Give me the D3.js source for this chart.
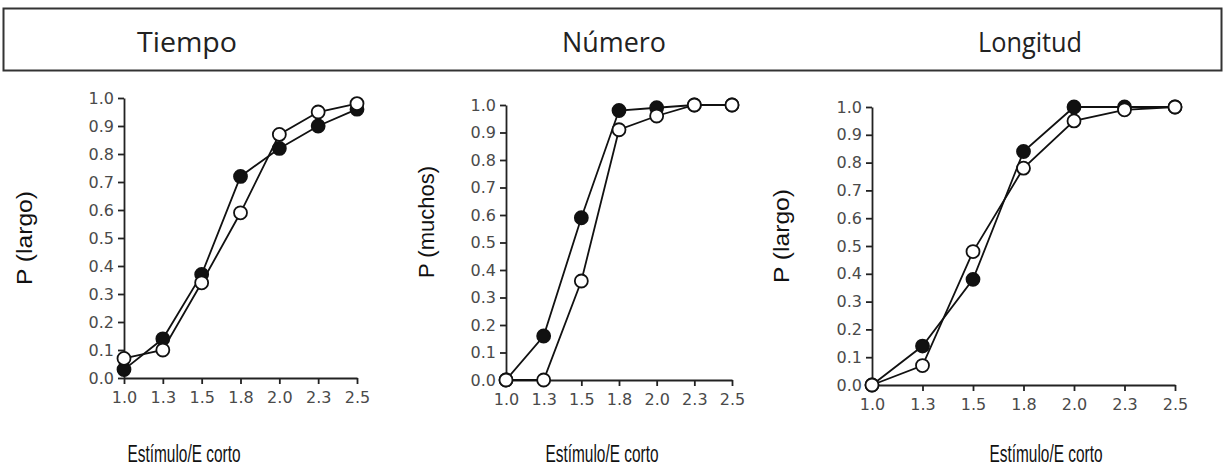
<!DOCTYPE html>
<html>
<head>
<meta charset="utf-8">
<script src="https://cdn.jsdelivr.net/npm/d3@7"></script>
<style>
  body { margin: 0; background: #fff; }
  svg { display: block; }
  .tick line, .domain { stroke: #222; stroke-width: 1.8; }
</style>
</head>
<body>
<div id="container"></div>
<script>
const width = 1226;
const height = 475;

// ------------------ DATA ------------------ //
const ratios = ["1.0", "1.3", "1.5", "1.8", "2.0", "2.3", "2.5"];
const yTicks = [0, 0.1, 0.2, 0.3, 0.4, 0.5, 0.6, 0.7, 0.8, 0.9, 1.0];
const titles = ["Tiempo", "Número", "Longitud"];
const yLabels = ["P (largo)", "P (muchos)", "P (largo)"];
const xLabel = "Estímulo/E corto";

const tiempoFilled = [0.03, 0.14, 0.37, 0.72, 0.82, 0.90, 0.96];
const tiempoOpen   = [0.07, 0.10, 0.34, 0.59, 0.87, 0.95, 0.98];
const numeroFilled = [0.00, 0.16, 0.59, 0.98, 0.99, 1.00, 1.00];
const numeroOpen   = [0.00, 0.00, 0.36, 0.91, 0.96, 1.00, 1.00];
const longFilled   = [0.00, 0.14, 0.38, 0.84, 1.00, 1.00, 1.00];
const longOpen     = [0.00, 0.07, 0.48, 0.78, 0.95, 0.99, 1.00];

// panel frames (plot area in page pixels)
const panels = [
  { x0: 124, x1: 357, yTop: 98, yBot: 378, title: 187, titleW: 100, lab: [24, 238], labW: 94, xlab: 184,
    filled: tiempoFilled, open: tiempoOpen },
  { x0: 506, x1: 732, yTop: 105, yBot: 380, title: 614, titleW: 104, lab: [426, 222], labW: 112, xlab: 602,
    filled: numeroFilled, open: numeroOpen },
  { x0: 872, x1: 1175, yTop: 107, yBot: 385, title: 1030, titleW: 104, lab: [781, 236], labW: 94, xlab: 1046,
    filled: longFilled, open: longOpen }
];

const svg = d3.select("#container").append("svg")
  .attr("width", width)
  .attr("height", height);

svg.append("rect").attr("width", width).attr("height", height).attr("fill", "#fff");

// ------------------ HEADER BOX ------------------ //
svg.append("rect")
  .attr("x", 3.5).attr("y", 8.5)
  .attr("width", 1218).attr("height", 62)
  .attr("fill", "none")
  .attr("stroke", "#333")
  .attr("stroke-width", 2);

function styleTicks(a) {
  a.attr("font-family", "DejaVu Sans, sans-serif").attr("font-size", 16);
  a.selectAll(".tick text")
    .style("font-family", "'DejaVu Sans', sans-serif")
    .style("font-size", "16px")
    .style("fill", "#4a4a4a");
}

panels.forEach(function(p, i) {
  svg.append("text")
    .attr("x", p.title).attr("y", 52)
    .attr("text-anchor", "middle")
    .attr("textLength", p.titleW)
    .attr("lengthAdjust", "spacingAndGlyphs")
    .style("font-family", "'Open Sans', sans-serif")
    .style("font-size", "28px")
    .style("fill", "#222")
    .text(titles[i]);

  const xScale = d3.scalePoint().domain(ratios).range([p.x0, p.x1]);
  const yScale = d3.scaleLinear().domain([0, 1]).range([p.yBot, p.yTop]);

  const g = svg.append("g");

  g.append("g")
    .attr("transform", "translate(0," + p.yBot + ")")
    .call(d3.axisBottom(xScale).tickSize(6).tickSizeOuter(0).tickPadding(5))
    .call(styleTicks)
    .call(function(a) { a.selectAll("text").attr("dy", "0.85em"); });

  g.append("g")
    .attr("transform", "translate(" + p.x0 + ",0)")
    .call(d3.axisLeft(yScale).tickValues(yTicks).tickFormat(d3.format(".1f"))
      .tickSize(6).tickSizeOuter(0).tickPadding(4))
    .call(styleTicks);

  // y label
  g.append("text")
    .attr("transform", "translate(" + p.lab[0] + "," + p.lab[1] + ") rotate(-90)")
    .attr("text-anchor", "middle")
    .attr("dy", "0.35em")
    .attr("textLength", p.labW)
    .attr("lengthAdjust", "spacingAndGlyphs")
    .style("font-family", "'Liberation Sans', Arial, sans-serif")
    .style("font-size", "22px")
    .style("fill", "#111")
    .text(yLabels[i]);

  // x label
  g.append("text")
    .attr("x", p.xlab).attr("y", 462)
    .attr("text-anchor", "middle")
    .attr("textLength", 113)
    .attr("lengthAdjust", "spacingAndGlyphs")
    .style("font-family", "'Liberation Sans', Arial, sans-serif")
    .style("font-size", "23px")
    .style("fill", "#111")
    .text(xLabel);

  const line = d3.line()
    .x(function(d, j) { return xScale(ratios[j]); })
    .y(function(d) { return yScale(d); });

  [p.filled, p.open].forEach(function(v) {
    g.append("path")
      .attr("d", line(v))
      .attr("fill", "none")
      .attr("stroke", "#111")
      .attr("stroke-width", 1.8);
  });

  [{ v: p.filled, fill: "#111" }, { v: p.open, fill: "#fff" }].forEach(function(s) {
    g.selectAll(null)
      .data(s.v)
      .enter()
      .append("circle")
      .attr("cx", function(d, j) { return xScale(ratios[j]); })
      .attr("cy", function(d) { return yScale(d); })
      .attr("r", 6.5)
      .attr("fill", s.fill)
      .attr("stroke", "#111")
      .attr("stroke-width", 1.8);
  });
});
</script>
</body>
</html>
